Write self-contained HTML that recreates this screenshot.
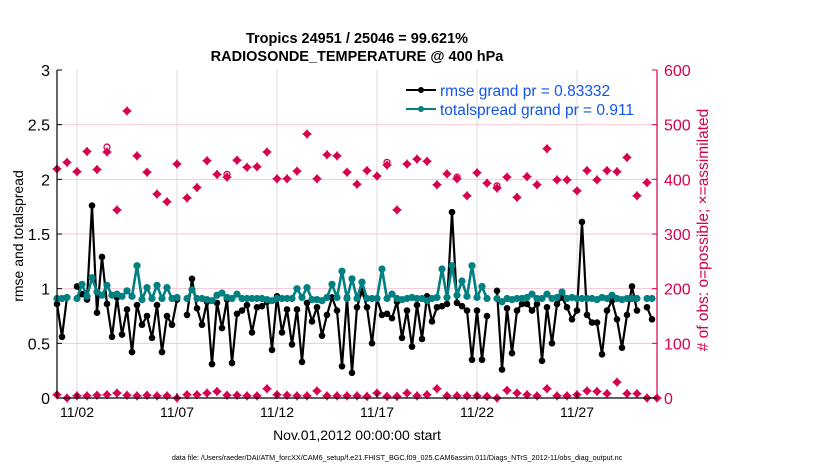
<!DOCTYPE html>
<html><head><meta charset="utf-8"><style>
body{margin:0;background:#fff;}
svg{display:block;font-family:"Liberation Sans",sans-serif;}
</style></head><body>
<svg id="chart" width="830" height="470">
<g id="grid"></g><g id="marks"></g><g id="axes"></g>
<text x="357" y="43" text-anchor="middle" font-size="14.5" font-weight="bold">Tropics 24951 / 25046 = 99.621%</text>
<text x="357" y="61" text-anchor="middle" font-size="14.5" font-weight="bold">RADIOSONDE_TEMPERATURE @ 400 hPa</text>
<text transform="translate(23,236) rotate(-90)" text-anchor="middle" font-size="14">rmse and totalspread</text>
<text transform="translate(708,230) rotate(-90)" text-anchor="middle" font-size="15.5" fill="#d5004f"># of obs: o=possible; ×=assimilated</text>
<text x="357" y="440" text-anchor="middle" font-size="14">Nov.01,2012 00:00:00 start</text>
<text x="397" y="460" text-anchor="middle" font-size="7.2">data file: /Users/raeder/DAI/ATM_forcXX/CAM6_setup/f.e21.FHIST_BGC.f09_025.CAM6assim.011/Diags_NTrS_2012-11/obs_diag_output.nc</text>
<g>
<line x1="406" y1="90" x2="436" y2="90" stroke="#000" stroke-width="2"/><circle cx="421" cy="90" r="3" fill="#000"/>
<text x="440" y="96" font-size="15.5" fill="#1155ee">rmse grand pr = 0.83332</text>
<line x1="406" y1="109" x2="436" y2="109" stroke="#008080" stroke-width="2"/><circle cx="421" cy="109" r="3" fill="#008080"/>
<text x="440" y="115" font-size="15.5" fill="#1155ee">totalspread grand pr = 0.911</text>
</g>
</svg>
<script>
const xTicks=["11/02","11/07","11/12","11/17","11/22","11/27"];
const xTickDays=[1,6,11,16,21,26];
const yLeftTicks=[0,0.5,1,1.5,2,2.5,3];
const yRightTicks=[0,100,200,300,400,500,600];
const rmse=[.86,.56,.92,null,1.02,.95,.90,1.76,.78,1.29,.86,.56,.92,.58,.81,.42,.85,.67,.75,.55,.85,.42,.75,.67,.90,null,.76,1.09,.82,.67,.88,.31,.87,.64,.90,.32,.77,.80,.85,.60,.83,.84,.88,.44,.93,.60,.81,.49,.81,.33,.87,.70,.83,.57,.76,.92,.80,.29,.92,.23,.83,.98,.83,.50,.91,.76,.77,.73,.88,.55,.80,.47,.85,.54,.93,.70,.83,.84,.86,1.70,.87,.84,.80,.35,.80,.35,.75,null,.98,.26,.82,.41,.80,.86,.86,.80,.86,.34,.83,.50,.86,.92,.83,.72,.80,1.61,.76,.69,.69,.40,.80,.89,.72,.46,.76,1.02,.80,null,.83,.72];
const spread=[.91,.91,.92,null,.91,1.04,.93,1.10,.97,.94,1.03,.94,.95,.93,.98,.93,1.21,.90,1.01,.91,1.03,.91,1.01,.91,.92,null,.91,.99,.91,.91,.90,.89,.94,.96,.92,.91,.95,.91,.91,.91,.91,.91,.90,.89,.91,.91,.91,.91,1.00,.92,1.01,.90,.90,.89,.92,1.04,.92,1.16,.91,1.09,.91,1.06,.91,.91,.91,1.18,.91,.95,.91,.90,.91,.92,.91,.91,.89,.91,.92,1.18,.92,1.21,.94,1.07,.93,1.21,.92,1.02,.91,null,.91,.88,.91,.90,.91,.91,.92,.95,.91,.91,.95,.91,.92,.97,.91,.92,.91,.91,.91,.91,.90,.92,.91,.94,.91,.90,.91,.91,.91,null,.91,.91];
const possible=[419,431,414,451,418,450,344,525,443,413,373,359,428,366,385,434,409,404,435,422,423,450,401,401,415,483,401,445,443,413,391,416,406,426,344,428,437,433,390,410,401,370,412,393,384,404,367,405,390,456,399,399,379,416,399,416,414,440,370,394,null];
const possibleHollow=[null,null,null,null,null,459,null,null,null,null,null,null,null,null,null,null,null,409,null,null,null,null,null,null,null,null,null,null,null,null,null,null,null,431,null,null,null,null,null,null,404,null,null,null,388,null,null,null,null,null,null,null,null,null,null,null,null,null,null,null,null];
const assimilated=[6,0,4,4,5,6,9,5,4,5,4,4,0,6,6,9,12,5,5,4,4,17,6,5,4,4,13,4,4,4,4,3,9,3,3,9,4,6,17,4,4,4,4,3,0,14,9,6,4,17,4,4,6,13,12,8,29,8,8,0,0];
const NS="http://www.w3.org/2000/svg";
const L=57,R=657,T=70,B=398;
const xd=d=>L+(R-L)*d/30;
const yl=v=>B-(B-T)*v/3;
const yr=v=>B-(B-T)*v/600;
const PINK="#d5004f";
function mk(tag,attrs,parent){const e=document.createElementNS(NS,tag);for(const k in attrs)e.setAttribute(k,attrs[k]);document.getElementById(parent).appendChild(e);return e;}
xTickDays.forEach((d,i)=>{const g=mk('line',{x1:xd(d),x2:xd(d),y1:T,y2:B,stroke:'#dddddd','stroke-width':1},'grid');


const t=mk('text',{x:xd(d),y:417,'text-anchor':'middle','font-size':14},'axes');t.textContent=xTicks[i];


const tk=mk('line',{x1:xd(d),x2:xd(d),y1:B,y2:B-5,stroke:'#000'},'axes');

});
yLeftTicks.forEach(v=>{if(v>0&&v<3){const g=mk('line',{x1:L,x2:R,y1:yl(v),y2:yl(v),stroke:'#f5c6d6','stroke-width':1},'grid');

}
const t=mk('text',{x:50,y:yl(v)+6,'text-anchor':'end','font-size':16},'axes');t.textContent=String(v);


const tk=mk('line',{x1:L,x2:L+5,y1:yl(v),y2:yl(v),stroke:'#000'},'axes');

});
yRightTicks.forEach(v=>{const t=mk('text',{x:664,y:yr(v)+6,'font-size':16,fill:PINK},'axes');t.textContent=String(v);


const tk=mk('line',{x1:R-5,x2:R,y1:yr(v),y2:yr(v),stroke:PINK},'axes');

});
let ax=mk('line',{x1:L,x2:L,y1:T,y2:B,stroke:'#000','stroke-width':1.2},'axes');


ax=mk('line',{x1:L,x2:R,y1:B,y2:B,stroke:'#000','stroke-width':1.2},'axes');


ax=mk('line',{x1:R,x2:R,y1:T,y2:B,stroke:PINK,'stroke-width':1.2},'axes');


function star(x,y,name){const g=mk('path',{d:`M${x-3.5},${y}L${x},${y-3.5}L${x+3.5},${y}L${x},${y+3.5}Z M${x-4.5},${y}H${x+4.5} M${x},${y-4.5}V${y+4.5}`,fill:PINK,stroke:PINK,'stroke-width':1.3},'marks');

}
possible.forEach((v,k)=>{if(v!==null)star(xd(k*0.5),yr(v),'possible-obs-point');});
possibleHollow.forEach((v,k)=>{if(v!==null){const c=mk('circle',{cx:xd(k*0.5),cy:yr(v),r:3,fill:'none',stroke:PINK,'stroke-width':1.3},'marks');

}});
assimilated.forEach((v,k)=>star(xd(k*0.5),yr(v),'assimilated-obs-point'));
function series(arr,color,name,r,w){let d='';let pen=false;arr.forEach((v,i)=>{if(v===null){pen=false;return;}d+=(pen?'L':'M')+xd(i*0.25)+','+yl(v);pen=true;});
const p=mk('path',{d:d,fill:'none',stroke:color,'stroke-width':w,'stroke-linejoin':'round'},'marks');


arr.forEach((v,i)=>{if(v===null)return;const c=mk('circle',{cx:xd(i*0.25),cy:yl(v),r:r,fill:color},'marks');

});}
series(rmse,'#000','rmse',3.3,2.2);
series(spread,'#008080','totalspread',3.6,2.6);
</script>
</body></html>
